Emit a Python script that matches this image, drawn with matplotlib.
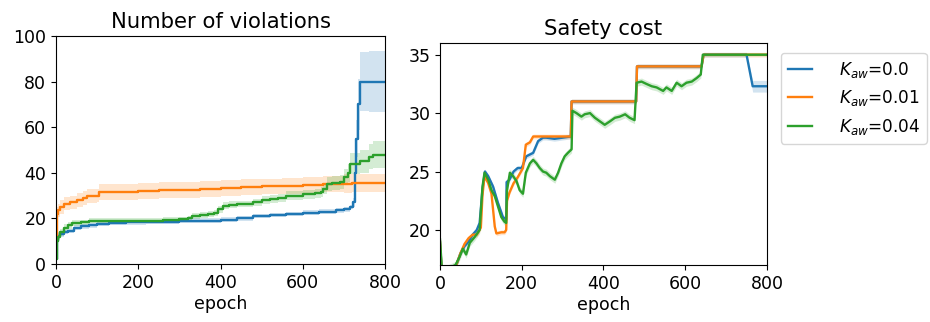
import matplotlib
matplotlib.use("Agg")
import matplotlib.pyplot as plt
import numpy as np

# ---- data ----
labels = [r"$K_{aw}$=0.0", r"$K_{aw}$=0.01", r"$K_{aw}$=0.04"]
colors = ["#1f77b4", "#ff7f0e", "#2ca02c"]

# number of violations (mean, half band width)
viol_ep_0 = [0, 2, 5, 10, 20, 30, 45, 60, 80, 100, 130, 170, 220, 300, 390, 400, 440, 480,
             520, 560, 600, 640, 680, 700, 715, 722, 726, 730, 734, 738, 760, 800]
viol_0 = [2, 10, 12.5, 13, 14, 14.5, 16, 16.5, 17, 17.5, 18, 18.3, 18.5, 19, 19, 19.5, 20, 21,
          21.5, 22, 22.5, 23, 23.5, 24, 25, 27, 40, 55, 70, 80, 80, 80]
viol_sd_0 = [0.5, 1.5, 1.5, 1, 1, 1, 1, 1, 1, 1, 1, 1, 1, 1, 1, 1, 1, 1,
             1, 1, 1, 1, 1, 1, 1, 2, 5, 8, 11, 13, 13.5, 13.5]

viol_ep_1 = [0, 2, 5, 10, 20, 35, 50, 65, 75, 100, 105, 150, 200, 250, 300, 350, 400, 450,
             500, 550, 600, 650, 700, 720, 800]
viol_1 = [12, 22, 23.5, 25, 26.5, 27, 28, 29, 29.8, 30, 31.5, 31.7, 32, 32.3, 32.6, 33, 33.3,
          33.7, 34, 34.3, 34.6, 35, 35.3, 35.5, 35.5]
viol_sd_1 = [2, 3, 3, 3, 3, 3, 3, 3, 3, 3, 3.5, 3.5, 3.5, 3.5, 3.5, 3.5, 3.5, 3.5,
             3.5, 3.5, 3.5, 3.5, 4, 4, 4.5]

viol_ep_2 = [0, 2, 5, 10, 20, 30, 40, 60, 80, 120, 200, 260, 300, 320, 330, 350, 370, 385,
             395, 405, 420, 440, 480, 500, 520, 540, 560, 600, 630, 645, 650, 660, 670, 690,
             700, 710, 715, 740, 760, 770, 800]
viol_2 = [2, 10, 12, 14, 16, 17, 18, 18.3, 19, 19, 19, 19.5, 19.8, 20, 21, 21.5, 22, 22.2,
          24, 25.5, 26, 26.3, 27, 28, 28.5, 29, 30, 30.5, 31, 31.5, 33, 35, 35.5, 36,
          38, 40, 44, 45, 47, 48, 48]
viol_sd_2 = [0.5, 1.5, 1.5, 1.5, 1.5, 1.5, 1.5, 1, 1, 1, 1, 1, 1, 1, 1.2, 1.2, 1.3, 1.3,
             1.5, 1.5, 1.5, 1.5, 1.5, 1.7, 1.7, 1.8, 2, 2, 2, 2.2, 2.5, 3, 3, 3.2,
             3.5, 4, 4.5, 5, 5.5, 6, 6]

# safety cost
cost_ep_0 = [0, 5, 40, 50, 60, 70, 80, 90, 97, 104, 110, 118, 130, 142, 154, 162, 163, 170,
             180, 190, 200, 211, 228, 240, 252, 260, 280, 300, 320, 322, 480, 482, 640, 645,
             750, 765, 800]
cost_0 = [19, 16, 17, 18, 18.6, 19, 19.6, 20, 20.6, 23.5, 25, 24.6, 23.7, 22.3, 21.1, 20.9,
          24.1, 24.3, 25, 25.3, 25.3, 26.3, 26.6, 27.6, 27.9, 27.9, 27.8, 27.9, 28, 31, 31,
          34, 34, 35, 35, 32.3, 32.3]
cost_sd_0 = [0.2] * 35 + [0.5, 0.5]

cost_ep_1 = [0, 5, 40, 50, 60, 70, 80, 90, 100, 104, 109, 118, 126, 134, 138, 150, 158, 162,
             164, 170, 180, 190, 203, 210, 220, 228, 320, 322, 480, 482, 640, 645, 800]
cost_1 = [19, 16, 17, 18, 18.8, 19.3, 19.6, 19.6, 20.2, 23, 24.6, 24, 23.1, 20.3, 19.7,
          19.8, 19.8, 20, 22.5, 23.2, 24, 24.5, 25.3, 27.3, 27.5, 28, 28, 31, 31, 34, 34,
          35, 35]
cost_sd_1 = [0.2] * 33

cost_ep_2 = [0, 5, 38, 48, 56, 64, 73, 85, 97, 104, 109, 118, 126, 134, 142, 150, 158, 162,
             164, 171, 179, 187, 195, 203, 210, 220, 228, 236, 244, 252, 260, 269, 281, 289,
             297, 305, 313, 322, 324, 334, 346, 354, 367, 379, 391, 403, 416, 428, 440, 453,
             464, 476, 481, 493, 505, 518, 530, 546, 554, 567, 579, 591, 603, 616, 628, 638,
             643, 800]
cost_2 = [19.2, 16.5, 17, 17.7, 18.4, 17.9, 18.9, 19.4, 20, 23.7, 24.9, 24.3, 23.4, 22.9,
          22, 21.1, 20.7, 20.6, 23.4, 24.9, 24.6, 24.2, 23.4, 23.1, 24.9, 25.7, 26, 25.7,
          25.3, 25, 24.9, 24.6, 24.3, 24.9, 25.7, 26.3, 26.6, 26.9, 30.2, 30, 29.7, 29.9,
          30, 29.6, 29.3, 29, 29.3, 29.6, 29.7, 29.9, 29.6, 29.4, 32.6, 32.7, 32.5, 32.3,
          32.2, 31.9, 32.2, 31.9, 32.6, 32.3, 32.6, 32.7, 33, 33.3, 35, 35]
cost_sd_2 = [0.3] * 66 + [0.1, 0.1]

fs = 12.5
plt.rcParams["font.size"] = fs

fig = plt.figure(figsize=(9.3, 3.22), dpi=100)
ax1 = fig.add_axes([0.0602, 0.1801, 0.3538, 0.708])
ax2 = fig.add_axes([0.4731, 0.1770, 0.3516, 0.6894])

viol = [(viol_ep_0, viol_0, viol_sd_0), (viol_ep_1, viol_1, viol_sd_1), (viol_ep_2, viol_2, viol_sd_2)]
for (ep, m, sd), c, lab in zip(viol, colors, labels):
    ep, m, sd = np.array(ep), np.array(m), np.array(sd)
    ax1.fill_between(ep, m - sd, m + sd, step="post", color=c, alpha=0.2, lw=0)
    ax1.plot(ep, m, drawstyle="steps-post", color=c, lw=1.7, label=lab)

cost = [(cost_ep_0, cost_0, cost_sd_0), (cost_ep_1, cost_1, cost_sd_1), (cost_ep_2, cost_2, cost_sd_2)]
for (ep, m, sd), c, lab in zip(cost, colors, labels):
    ep, m, sd = np.array(ep), np.array(m), np.array(sd)
    ax2.fill_between(ep, m - sd, m + sd, color=c, alpha=0.2, lw=0)
    ax2.plot(ep, m, color=c, lw=1.7, label=lab)

ax1.set_xlim(0, 800)
ax1.set_ylim(0, 100)
ax1.set_xticks([0, 200, 400, 600, 800])
ax1.set_yticks([0, 20, 40, 60, 80, 100])
ax1.set_xlabel("epoch", fontsize=fs, labelpad=2)
ax1.set_title("Number of violations", fontsize=15.2, pad=6)

ax2.set_xlim(0, 800)
ax2.set_ylim(17, 36)
ax2.set_xticks([0, 200, 400, 600, 800])
ax2.set_yticks([20, 25, 30, 35])
ax2.set_xlabel("epoch", fontsize=fs, labelpad=2)
ax2.set_title("Safety cost", fontsize=15.2, pad=6)

for ax in (ax1, ax2):
    ax.tick_params(labelsize=fs)

ax2.legend(loc="upper left", bbox_to_anchor=(1.043, 0.955), fontsize=12.2,
           handletextpad=1.6, handlelength=1.4, borderaxespad=0, borderpad=0.4)

fig.savefig("out.png", dpi=100)
